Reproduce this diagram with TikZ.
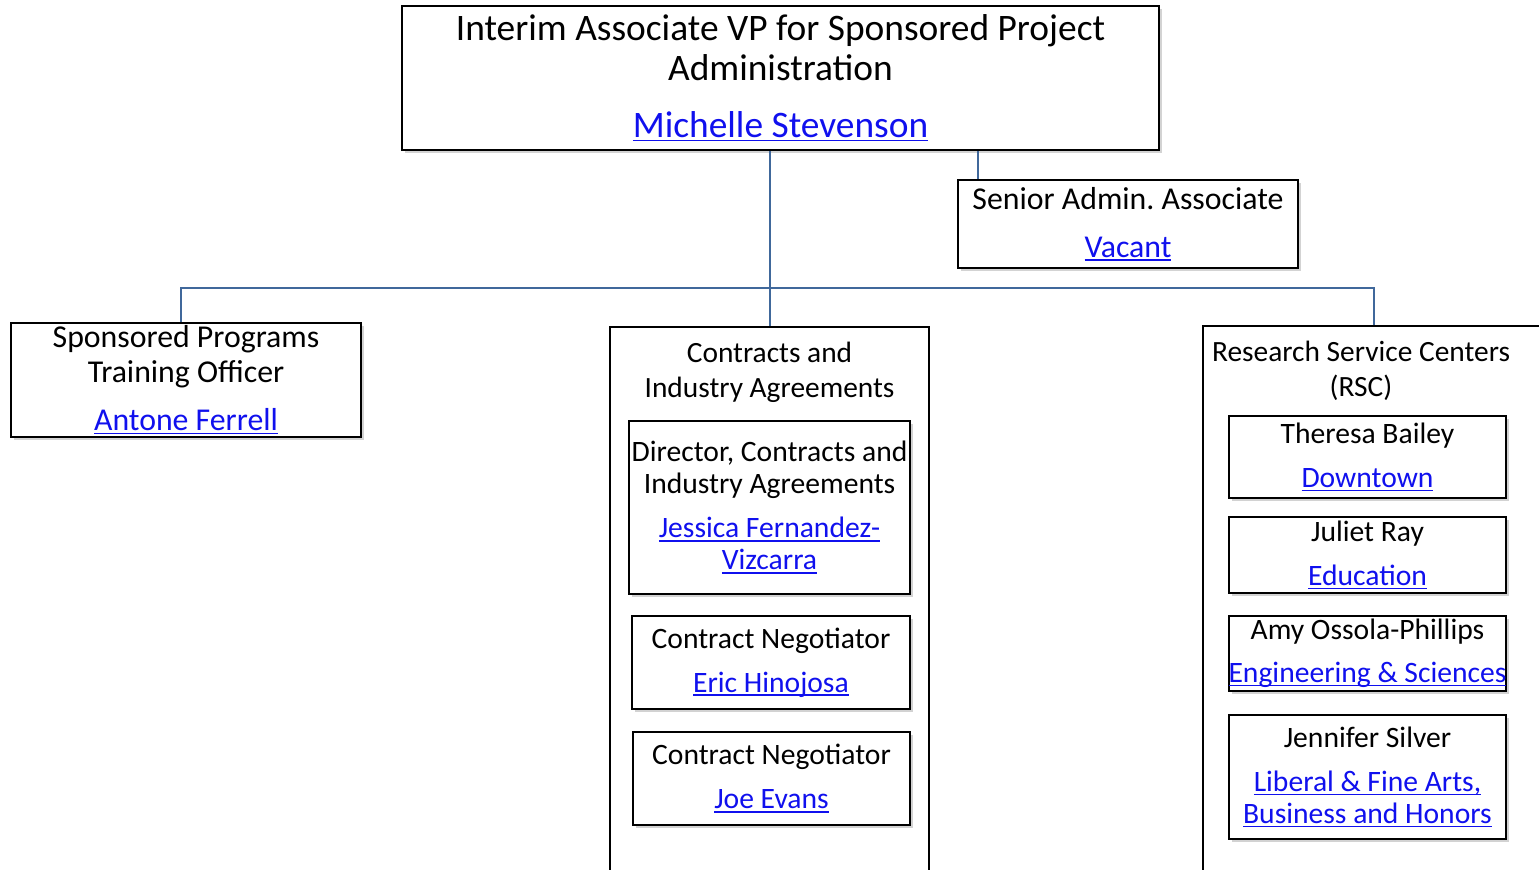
\documentclass[tikz,border=0pt]{standalone}
\usepackage{fontspec}
\setmainfont{Carlito}
\usetikzlibrary{shadows}
\frenchspacing
\definecolor{linkblue}{RGB}{16,16,238}
\definecolor{orgline}{RGB}{64,104,155}
\newsavebox{\lnkbox}
\newcommand{\lnk}[1]{\textcolor{linkblue}{\sbox{\lnkbox}{#1}\rlap{\rule[-1.8pt]{\wd\lnkbox}{0.7pt}}\usebox{\lnkbox}}}
\tikzset{
    box/.style 2 args = {draw, rectangle, fill=white, line width=1pt,
        inner sep=0pt, align=center,
        minimum width=#1*0.5pt,
        minimum height=#2*0.5pt,
        drop shadow={shadow xshift=1.5pt, shadow yshift=-1.5pt, opacity=0.35}},
    group/.style 2 args = {draw, rectangle, fill=white, line width=1pt,
        minimum width=#1*0.5pt,
        minimum height=#2*0.5pt},
    head/.style = {align=center, font=\fontsize{15.9}{17.5}\selectfont},
    grouphead/.style = {align=center, font=\fontsize{14.7}{17.5}\selectfont},
    small/.style = {font=\fontsize{14.8}{16}\selectfont},
    conn/.style = {draw, orgline, line width=1pt}
}

\begin{document}
\begin{tikzpicture}[x=0.5pt, y=-0.5pt]
                \useasboundingbox (0,0) rectangle (1539,870);
                \node[group={319}{600}] (cia) at (769.5,627) {};
                \node[group={342}{600}] (rsc) at (1374,626) {};
                \node[grouphead] (cianame) at (769.5,372) {Contracts and\\Industry Agreements};
                \node[grouphead] (rscname) at (1361,371) {Research Service Centers\\(RSC)};
                \node[box={757}{144}, font=\fontsize{18.7}{20}\selectfont] (vp) at (780.5,78)
                    {Interim Associate VP for Sponsored Project\\Administration\\[8.5pt]\lnk{Michelle Stevenson}};
                \node[box={340}{88}, head] (sen) at (1128,224) {Senior Admin. Associate\\[6.5pt]\lnk{Vacant}};
                \node[box={350}{114}, head] (spo) at (186,380) {Sponsored Programs\\Training Officer\\[6.5pt]\lnk{Antone Ferrell}};
                \node[box={281}{173}, small] (dir) at (769.5,507.5)
                    {Director, Contracts and\\Industry Agreements\\[6pt]\lnk{Jessica Fernandez-}\\\lnk{Vizcarra}};
                \node[box={278}{93}, small] (cn1) at (771,662.5) {Contract Negotiator\\[6pt]\lnk{Eric Hinojosa}};
                \node[box={277}{93}, small] (cn2) at (771.5,778.5) {Contract Negotiator\\[6pt]\lnk{Joe Evans}};
                \node[box={277}{82}, small] (tb) at (1367.5,457) {Theresa Bailey\\[6pt]\lnk{Downtown}};
                \node[box={277}{76}, small] (jr) at (1367.5,555) {Juliet Ray\\[6pt]\lnk{Education}};
                \node[box={277}{75}, small] (aop) at (1367.5,653.5) {Amy Ossola-Phillips\\[5.5pt]\lnk{Engineering \& Sciences}};
                \node[box={277}{124}, small] (js) at (1367.5,777)
                    {Jennifer Silver\\[6pt]\lnk{Liberal \& Fine Arts,}\\\lnk{Business and Honors}};
                \coordinate (bus) at (771,288);
                \draw[conn] (vp.south -| cia.north) -- (cia.north);
                \draw[conn] ([xshift=10.5pt]sen.north west) -- ([xshift=10.5pt]sen.north west |- vp.south);
                \draw[conn] ([xshift=-2.5pt]spo.north) |- (bus) -| (rsc.north);
            \end{tikzpicture}
\end{document}
